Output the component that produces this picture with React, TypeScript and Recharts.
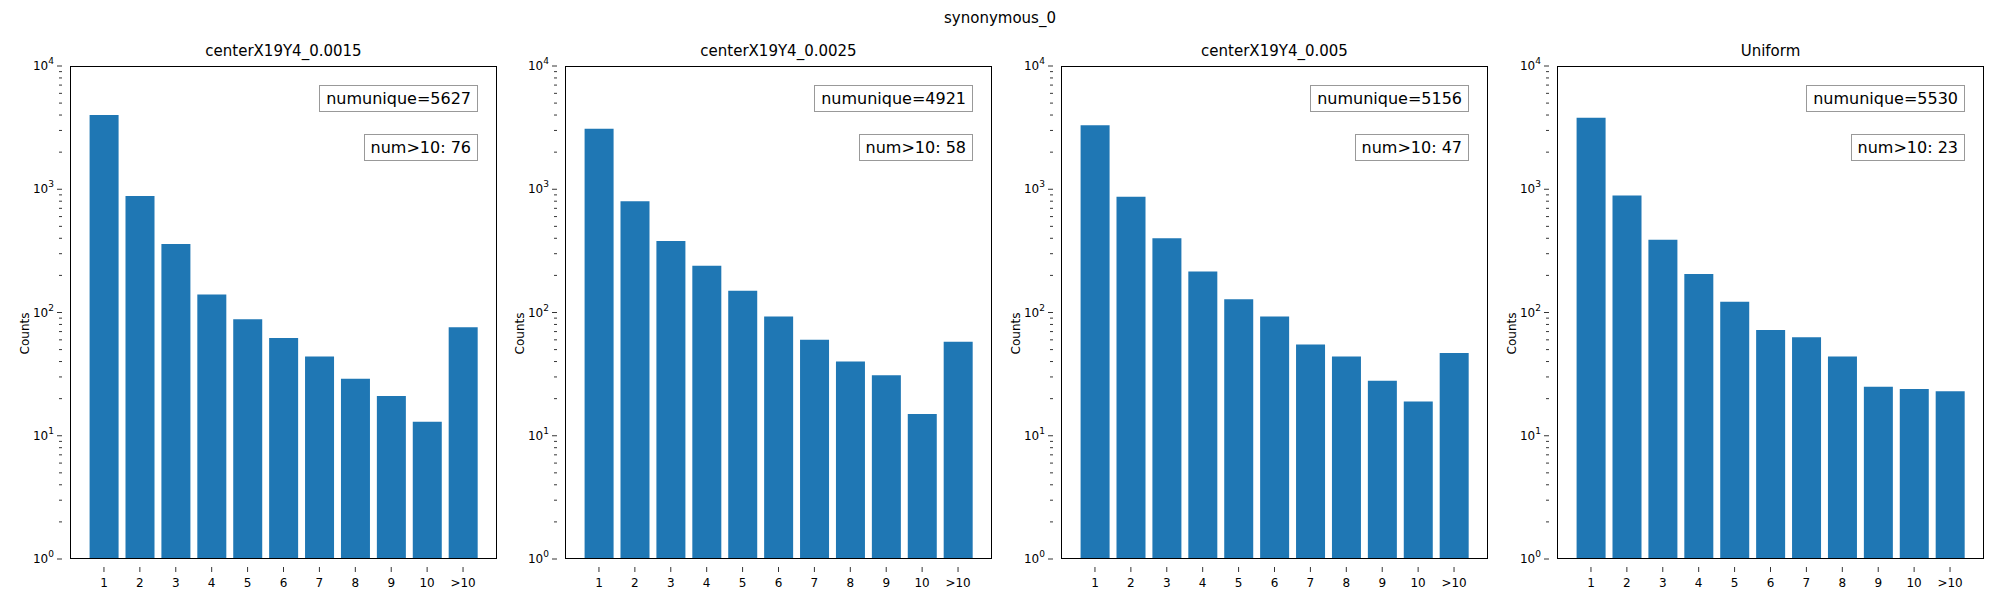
import React from 'react';
import { BarChart, Bar, XAxis, YAxis } from 'recharts';

const categories = ['1', '2', '3', '4', '5', '6', '7', '8', '9', '10', '>10'];
const panelTitles = ['centerX19Y4_0.0015', 'centerX19Y4_0.0025', 'centerX19Y4_0.005', 'Uniform'];
const numUnique = [5627, 4921, 5156, 5530];
const numOver10 = [76, 58, 47, 23];
const counts0015 = [4000, 880, 360, 140, 88, 62, 44, 29, 21, 13, 76];
const counts0025 = [3100, 800, 380, 240, 150, 93, 60, 40, 31, 15, 58];
const counts005 = [3300, 870, 400, 215, 128, 93, 55, 44, 28, 19, 47];
const countsUniform = [3800, 890, 390, 205, 122, 72, 63, 44, 25, 24, 23];
const allCounts = [counts0015, counts0025, counts005, countsUniform];

const majorTicks = [1, 10, 100, 1000, 10000];
const yTicks: number[] = [];
for (let d = 0; d < 4; d++) {
  for (let m = 1; m < 10; m++) yTicks.push(m * Math.pow(10, d));
}
yTicks.push(10000);

const FONT = '"DejaVu Sans", sans-serif';
const axesLefts = [70, 565, 1061, 1557];
const AX_W = 427;
const AX_TOP = 66;
const AX_BOTTOM = 559;

const YTick = (props: any) => {
  const { x, y, payload } = props;
  const v = payload.value;
  const major = majorTicks.includes(v);
  const exp = Math.round(Math.log10(v));
  return (
    <g>
      <line x1={x} x2={x - (major ? 5 : 3)} y1={y} y2={y} stroke="#000" strokeWidth={0.8} />
      {major && (
        <text x={x - 8} y={y + 4} textAnchor="end" fontSize={12} fontFamily={FONT} fill="#000">
          10<tspan dy={-6} fontSize={9}>{exp}</tspan>
        </text>
      )}
    </g>
  );
};

const XTick = (props: any) => {
  const { x, y, payload } = props;
  return (
    <g>
      <line x1={x} x2={x} y1={y} y2={y + 5} stroke="#000" strokeWidth={0.8} />
      <text x={x} y={y + 20} textAnchor="middle" fontSize={12} fontFamily={FONT} fill="#000">
        {payload.value}
      </text>
    </g>
  );
};

const boxStyle: React.CSSProperties = {
  position: 'absolute',
  border: '1px solid #999',
  background: '#fff',
  fontFamily: FONT,
  fontSize: 16,
  padding: '3px 6px',
  lineHeight: '19px',
  whiteSpace: 'nowrap',
};

const Panel: React.FC<{ idx: number }> = ({ idx }) => {
  const data = categories.map((c, i) => ({ cat: c, count: allCounts[idx][i] }));
  const left = axesLefts[idx];
  return (
    <>
      <div style={{ position: 'absolute', left: left - 60, top: 0 }}>
        <BarChart
          width={AX_W + 70}
          height={600}
          data={data}
          margin={{ top: AX_TOP, right: 10, left: 20, bottom: 600 - AX_BOTTOM - 30 }}
          barCategoryGap="10%"
        >
          <XAxis
            dataKey="cat"
            height={30}
            padding={{ left: 16, right: 16 }}
            tickLine={false}
            axisLine={false}
            tick={<XTick />}
            interval={0}
          />
          <YAxis
            scale="log"
            domain={[1, 10000]}
            ticks={yTicks}
            interval={0}
            allowDataOverflow
            width={40}
            tickLine={false}
            axisLine={false}
            tick={<YTick />}
            label={{ value: 'Counts', angle: -90, position: 'left', offset: 5, style: { fontFamily: FONT, fontSize: 12, fill: '#000' } }}
          />
          <Bar dataKey="count" fill="#1f77b4" isAnimationActive={false} />
        </BarChart>
      </div>
      <div
        style={{
          position: 'absolute', left, top: AX_TOP, width: AX_W, height: AX_BOTTOM - AX_TOP,
          border: '1px solid #000', boxSizing: 'border-box', pointerEvents: 'none',
        }}
      />
      <div style={{ position: 'absolute', left, width: AX_W, top: 42, textAlign: 'center', fontFamily: FONT, fontSize: 15 }}>
        {panelTitles[idx]}
      </div>
      <div style={{ ...boxStyle, right: 2000 - (left + 408), top: 85 }}>numunique={numUnique[idx]}</div>
      <div style={{ ...boxStyle, right: 2000 - (left + 408), top: 134 }}>num&gt;10: {numOver10[idx]}</div>
    </>
  );
};

export default function App() {
  return (
    <div style={{ position: 'fixed', left: 0, top: 0, width: 2000, height: 600, background: '#fff' }}>
      <div style={{ position: 'absolute', left: 0, width: 2000, top: 9, textAlign: 'center', fontFamily: FONT, fontSize: 15 }}>
        synonymous_0
      </div>
      {[0, 1, 2, 3].map((i) => (
        <Panel key={i} idx={i} />
      ))}
    </div>
  );
}
